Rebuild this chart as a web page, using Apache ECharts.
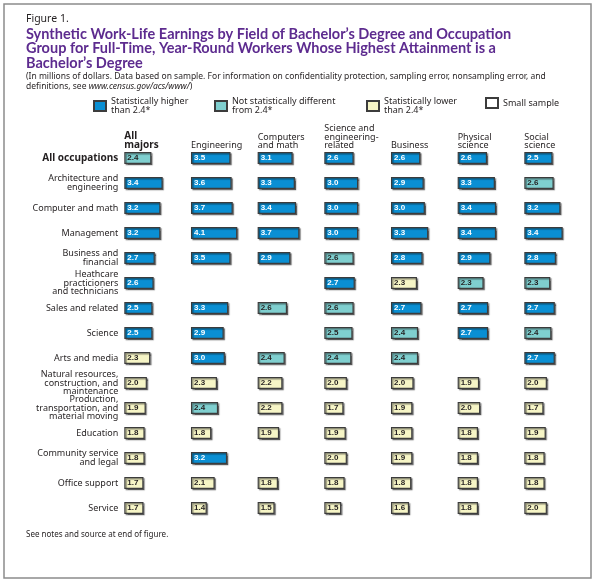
<!DOCTYPE html>
<html><head><meta charset="utf-8">
<script src="https://cdn.jsdelivr.net/npm/echarts@6/dist/echarts.min.js"></script>
<style>html,body{margin:0;padding:0;background:#fff}#c{width:600px;height:584px}</style>
</head><body><div id="c"></div>
<script>
const occupations = ['All occupations','Architecture and\nengineering','Computer and math','Management','Business and\nfinancial','Heathcare\npracticioners\nand technicians','Sales and related','Science','Arts and media','Natural resources,\nconstruction, and\nmaintenance','Production,\ntransportation, and\nmaterial moving','Education','Community service\nand legal','Office support','Service'];
const majors = ['All\nmajors','Engineering','Computers\nand math','Science and\nengineering-\nrelated','Business','Physical\nscience','Social\nscience'];
// h = statistically higher, n = not different, l = lower, s = small sample (not shown)
const allMajors = [2.4,3.4,3.2,3.2,2.7,2.6,2.5,2.5,2.3,2.0,1.9,1.8,1.8,1.7,1.7];
const allMajorsSig = ['n','h','h','h','h','h','h','h','l','l','l','l','l','l','l'];
const engineering = [3.5,3.6,3.7,4.1,3.5,null,3.3,2.9,3.0,2.3,2.4,1.8,3.2,2.1,1.4];
const engineeringSig = ['h','h','h','h','h','s','h','h','h','l','n','l','h','l','l'];
const computersMath = [3.1,3.3,3.4,3.7,2.9,null,2.6,null,2.4,2.2,2.2,1.9,null,1.8,1.5];
const computersMathSig = ['h','h','h','h','h','s','n','s','n','l','l','l','s','l','l'];
const scienceEngRelated = [2.6,3.0,3.0,3.0,2.6,2.7,2.6,2.5,2.4,2.0,1.7,1.9,2.0,1.8,1.5];
const scienceEngRelatedSig = ['h','h','h','h','n','h','n','n','n','l','l','l','l','l','l'];
const business = [2.6,2.9,3.0,3.3,2.8,2.3,2.7,2.4,2.4,2.0,1.9,1.9,1.9,1.8,1.6];
const businessSig = ['h','h','h','h','h','l','h','n','n','l','l','l','l','l','l'];
const physicalScience = [2.6,3.3,3.4,3.4,2.9,2.3,2.7,2.7,null,1.9,2.0,1.8,1.8,1.8,1.8];
const physicalScienceSig = ['h','h','h','h','h','n','h','h','s','l','l','l','l','l','l'];
const socialScience = [2.5,2.6,3.2,3.4,2.8,2.3,2.7,2.4,2.7,2.0,1.7,1.9,1.8,1.8,2.0];
const socialScienceSig = ['h','n','h','h','h','n','h','n','h','l','l','l','l','l','l'];
const legendNames = {h:'Statistically higher\nthan 2.4*', n:'Not statistically different\nfrom 2.4*', l:'Statistically lower\nthan 2.4*', s:'Small sample'};

const columns = [
  [allMajors, allMajorsSig],[engineering, engineeringSig],[computersMath, computersMathSig],
  [scienceEngRelated, scienceEngRelatedSig],[business, businessSig],[physicalScience, physicalScienceSig],[socialScience, socialScienceSig]
];
const FONT = 'Noto Sans';
const TXT = '#231f20';
const fills = {h:'#0a8fd3', n:'#7fcfcf', l:'#f6f5c6', s:'#ffffff'};
const labelColors = {h:'#ffffff', n:'#231f20', l:'#231f20', s:'#231f20'};
const colLeft0 = 124.3, colStep = 66.67, gridTop = 145.5, gridH = 375, unitPx = 11.3, xMax = 5;

const grids = [], xAxes = [], yAxes = [], series = [];
columns.forEach((col, c) => {
  grids.push({left: colLeft0 + colStep*c, top: gridTop, width: unitPx*xMax, height: gridH, containLabel: false});
  xAxes.push({type:'value', gridIndex:c, min:0, max:xMax, show:false});
  yAxes.push({type:'category', gridIndex:c, inverse:true,
    data: occupations.map((o,i)=> i===0 ? {value:o, textStyle:{fontWeight:'bold', fontSize:10}} : o),
    show: c===0, axisLine:{show:false}, axisTick:{show:false}, splitLine:{show:false},
    axisLabel:{show:c===0, fontFamily:FONT, fontSize:9, lineHeight:8.6, color:TXT, margin:6}});
  ['h','n','l'].forEach(s => {
    series.push({
      type:'bar', name: legendNames[s], xAxisIndex:c, yAxisIndex:c, stack:'col'+c, barWidth:12,
      data: col[0].map((v,i)=> (col[1][i]===s && v!=null) ? v : '-'),
      itemStyle:{color:fills[s], borderColor:'#3c3c3c', borderWidth:1.2,
        shadowColor:'rgba(0,0,0,0.45)', shadowOffsetX:1.3, shadowOffsetY:1.3, shadowBlur:1},
      label:{show:true, position:'insideLeft', distance:3, fontFamily:'Liberation Sans', fontWeight:'bold', fontSize:8,
        color:labelColors[s], formatter: p => Number(p.value).toFixed(1)},
      emphasis:{disabled:true}, animation:false
    });
  });
});
series.push({type:'bar', name:legendNames.s, xAxisIndex:0, yAxisIndex:0, stack:'col0', barWidth:12,
  data: occupations.map(()=> '-'), itemStyle:{color:fills.s, borderColor:'#3c3c3c', borderWidth:1}, animation:false});

const legendX = [93, 214, 366, 485];
const legends = ['h','n','l','s'].map((s,i)=>({
  data:[legendNames[s]], left:legendX[i], top:97, padding:0, itemWidth:12, itemHeight:10, icon:'rect',
  selectedMode:false, textStyle:{fontFamily:FONT, fontSize:9, lineHeight:9, color:TXT}
}));

const headers = majors.map((m,c)=>({
  type:'text', x: colLeft0 + colStep*c, y: 150,
  style:{text:m, fontFamily:FONT, fontSize: c===0?10:9, fontWeight: c===0?'bold':'normal',
    lineHeight: c===0?9:8.6, fill:TXT, verticalAlign:'bottom', align:'left'}
}));

const option = {
  backgroundColor:'#ffffff',
  animation:false,
  title:[
    {text:'Figure 1.', left:26, top:14, padding:0, textStyle:{fontFamily:FONT, fontSize:10.5, fontWeight:'normal', color:TXT}},
    {text:'Synthetic Work-Life Earnings by Field of Bachelor’s Degree and Occupation\nGroup for Full-Time, Year-Round Workers Whose Highest Attainment is a\nBachelor’s Degree',
      left:26, top:27, padding:0, textStyle:{fontFamily:'Lato', fontSize:14.5, fontWeight:'bold', color:'#5d2b8f', lineHeight:14.5}},
    {text:'(In millions of dollars. Data based on sample. For information on confidentiality protection, sampling error, nonsampling error, and\ndefinitions, see {i|www.census.gov/acs/www/})',
      left:26, top:72, padding:0, textStyle:{fontFamily:FONT, fontSize:8.5, fontWeight:'normal', color:TXT, lineHeight:9.5,
        rich:{i:{fontStyle:'italic', fontFamily:FONT, fontSize:8.5, color:TXT}}}},
    {text:'See notes and source at end of figure.', left:26, top:531, padding:0, textStyle:{fontFamily:FONT, fontSize:8, fontWeight:'normal', color:TXT}}
  ],
  legend: legends,
  grid: grids, xAxis: xAxes, yAxis: yAxes, series: series,
  graphic: [
    {type:'rect', shape:{x:4, y:4, width:587, height:574}, style:{fill:'none', stroke:'#8c8c8c', lineWidth:1.5}, silent:true},
    ...headers
  ]
};
const chart = echarts.init(document.getElementById('c'));
chart.setOption(option);
</script></body></html>
